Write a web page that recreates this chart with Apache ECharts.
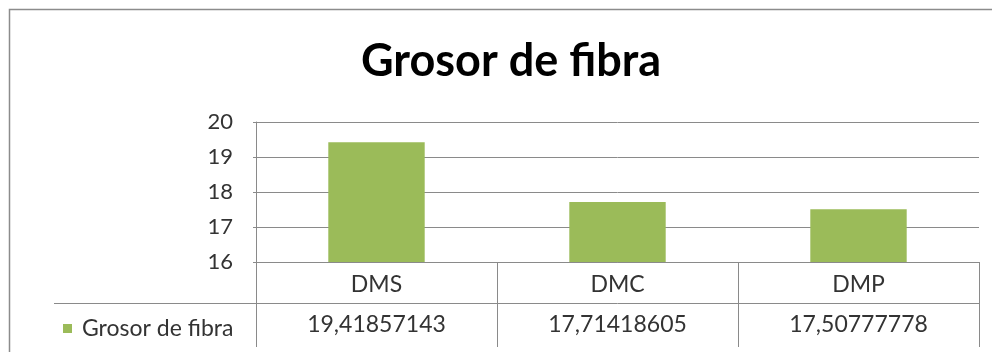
<!DOCTYPE html>
<html>
<head>
<meta charset="utf-8">
<script src="https://cdn.jsdelivr.net/npm/echarts@6/dist/echarts.min.js"></script>
<style>
  html, body { margin: 0; padding: 0; background: #fff; }
  #chart { width: 992px; height: 352px; }
</style>
</head>
<body>
<div id="chart"></div>
<script>
// Fibre thickness per group, shown as bars with a data table underneath
const categories = ['DMS', 'DMC', 'DMP'];
const thickness = [19.41857143, 17.71418605, 17.50777778];
const seriesName = 'Grosor de fibra';
const yTicks = [16, 17, 18, 19, 20];

// Values written with a decimal comma for the table row
const tableRow = thickness.map(v => String(v).replace('.', ','));

const FONT = 'Lato, "Open Sans", sans-serif';
const LINE = '#8a8a8a';
const TEXT = '#333333';

const chart = echarts.init(document.getElementById('chart'));
chart.setOption({
  animation: false,
  backgroundColor: '#fff',
  title: {
    text: 'Grosor de fibra',
    left: 356,
    top: 34,
    textStyle: { fontFamily: FONT, fontWeight: 'bold', fontSize: 45, color: '#000' }
  },
  legend: {
    data: [seriesName],
    left: 58,
    top: 312,
    icon: 'rect',
    itemWidth: 9,
    itemHeight: 9,
    itemGap: 0,
    textStyle: { fontFamily: FONT, fontSize: 23, color: TEXT, padding: [0, 0, 0, 5] }
  },
  grid: { left: 256, right: 13, top: 122, height: 140 },
  xAxis: [
    {
      type: 'category',
      data: categories,
      position: 'bottom',
      axisLine: { show: true, lineStyle: { color: LINE, width: 1 } },
      axisTick: { show: true, length: 85, interval: 0, lineStyle: { color: LINE } },
      axisLabel: { fontFamily: FONT, fontSize: 23, color: TEXT, margin: 11 }
    },
    {
      type: 'category',
      data: tableRow,
      position: 'bottom',
      offset: 41,
      axisLine: { show: true, lineStyle: { color: LINE, width: 1 } },
      axisTick: { show: false },
      axisLabel: { fontFamily: FONT, fontSize: 23, color: TEXT, margin: 10 }
    }
  ],
  yAxis: {
    type: 'value',
    min: yTicks[0],
    max: yTicks[yTicks.length - 1],
    interval: 1,
    axisLine: { show: true, lineStyle: { color: LINE } },
    axisTick: { show: true, length: 3, lineStyle: { color: LINE } },
    splitLine: { lineStyle: { color: LINE, width: 1 } },
    axisLabel: { fontFamily: FONT, fontSize: 22, color: TEXT, margin: 23 }
  },
  series: [{
    name: seriesName,
    type: 'bar',
    xAxisIndex: 0,
    data: thickness,
    barWidth: '40%',
    itemStyle: { color: '#9bbb59' }
  }],
  graphic: [
    // chart frame
    { type: 'rect', shape: { x: 9.5, y: 9.5, width: 1000, height: 360 },
      style: { fill: 'none', stroke: '#8c8c8c', lineWidth: 1.5 }, silent: true },
    // table row divider under the legend cell
    { type: 'line', shape: { x1: 54, y1: 303.5, x2: 256, y2: 303.5 },
      style: { stroke: LINE, lineWidth: 1 }, silent: true }
  ]
});
</script>
</body>
</html>
